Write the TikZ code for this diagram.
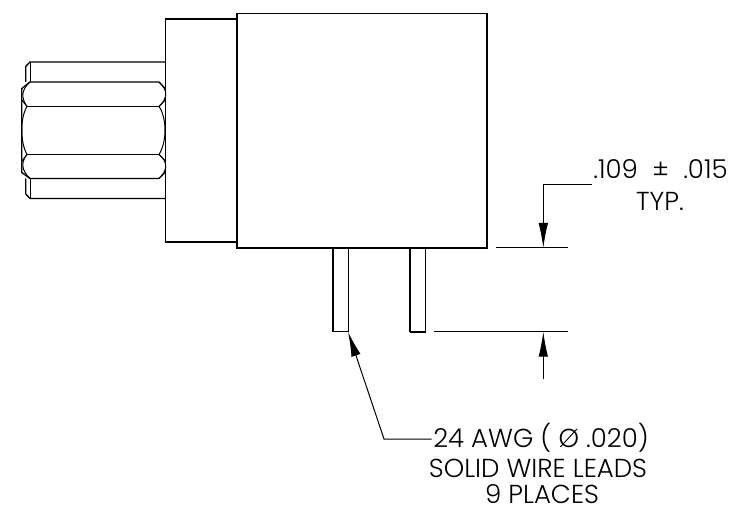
\documentclass[tikz,border=0pt]{standalone}
\usepackage{fontspec}
\setmainfont{Poppins}[UprightFont=* Light]
\usetikzlibrary{arrows.meta}
\tikzset{
  part/.style={line width=1.3pt,black,line join=miter},
  thin part/.style={line width=1pt,black},
  dim/.style={line width=1pt,black},
  tipped/.style={dim,-{Latex[length=25pt,width=9.5pt]}},
  note/.style={font=\fontsize{26}{30}\selectfont,anchor=base,inner sep=0pt,text=black}
}
\begin{document}
\begin{tikzpicture}[x=1pt,y=-1pt]
\useasboundingbox (0,0) rectangle (752,518);
\fill[white] (0,0) rectangle (752,518);
% body
\draw[part] (237,13.5) rectangle (487,248);
\draw[part] (237,19) -- (165.5,19) -- (165.5,242) -- (237,242);
% leads
\draw[part] (333,248) -- (333,331.7) -- (348.3,331.7) -- (348.3,248);
\draw[part] (410,248) -- (410,331.7) -- (425.5,331.7) -- (425.5,248);
\draw[line width=2pt] (410,331.7) -- (425.5,331.7);
% barrel
\draw[part] (165.5,62) -- (30,62) -- (25.7,66.5) -- (25.7,82) (25.7,178.5) -- (25.7,194) -- (30,198.5) -- (165.5,198.5);
\draw[thin part] (30,62) -- (30,82) (30,178.5) -- (30,198.5);
% hex nut
\draw[part] (159,82) -- (30,82) -- (21.8,88.5) -- (21.8,172.5) -- (30,178.5) -- (159,178.5) -- (165.5,172) (159,82) -- (165.5,89);
\draw[part] (27,106.5) -- (159,106.5) (27,154.5) -- (159,154.5);
\draw[thin part] (30,82) .. controls (21,90) and (21,98) .. (27,106.5)
  .. controls (20,118) and (20,142) .. (27,154.5)
  .. controls (21,162) and (21,170) .. (30,178.5);
\draw[thin part] (159,82) .. controls (168,90) and (168,98) .. (159,106.5)
  .. controls (167,118) and (167,142) .. (159,154.5)
  .. controls (168,162) and (168,170) .. (159,178.5);
\draw[thin part] (21.8,100) -- (27,106.5) (21.8,161) -- (27,154.5);
\draw[thin part] (165.5,100) -- (159,106.5) (165.5,161) -- (159,154.5);
% dimension
\coordinate (ua) at (543.3,248);
\coordinate (ub) at (543.3,184.3);
\coordinate (uc) at (591.7,184.3);
\coordinate (la) at (543.3,331.7);
\coordinate (lb) at (543.3,379);
\coordinate (wa) at (348,331.7);
\coordinate (wb) at (384,439);
\coordinate (wc) at (431.7,439);
\draw[dim] (496,248) -- (567.7,248);
\draw[dim] (434.3,331.7) -- (567.7,331.7);
\draw[tipped] (uc) -- (ub) -- (ua);
\draw[tipped] (lb) -- (la);
\draw[tipped] (wc) -- (wb) -- (wa);
\node[note] (tol) at (660.5,179) {.109\hspace{7pt} ± \hspace{7pt}.015};
\node[note] (typ) at (660,211) {TYP.};
\node[note] (awg) at (541,447.5) {24 AWG ( Ø .020)};
\node[note] (solid) at (538,477) {SOLID WIRE LEADS};
\node[note] (pl) at (542,503) {9 PLACES};
\end{tikzpicture}
\end{document}
